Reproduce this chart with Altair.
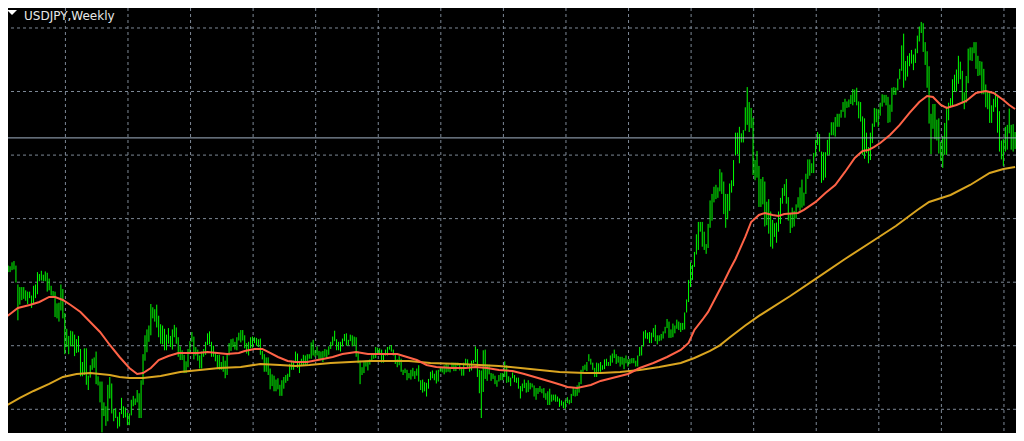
import itertools
import altair as alt
import pandas as pd

# Weekly USDJPY bars (high, low), one entry per week, from 2015-06-29 to 2025-06-02
bars_2015 = [(123.7, 122.1), (123.0, 120.4), (124.5, 122.9), (124.6, 123.6), (124.5, 123.6), (125.1, 123.9),
             (125.3, 124.0), (124.6, 122.0), (121.7, 116.2), (121.3, 118.6), (121.3, 119.3), (121.3, 119.5),
             (120.8, 119.2), (120.6, 118.7), (120.6, 119.6), (120.0, 118.1), (121.5, 118.8), (121.7, 119.6),
             (123.6, 120.2), (123.3, 122.2), (123.8, 122.3), (123.2, 122.2), (123.7, 122.2), (123.5, 120.6),
             (122.6, 120.8), (121.5, 120.0), (120.7, 119.9)]
bars_2016 = [(120.6, 116.7), (118.8, 116.5), (118.9, 116.0), (121.7, 117.7), (121.0, 116.5), (117.3, 111.0),
             (114.9, 112.1), (113.8, 111.0), (114.6, 112.2), (114.5, 112.2), (114.0, 110.7), (113.3, 111.2),
             (113.8, 111.3), (111.8, 107.6), (109.8, 107.6), (111.9, 107.8), (111.9, 106.3), (107.7, 105.5),
             (109.3, 107.4), (110.3, 108.6), (110.5, 108.9), (111.4, 106.4), (107.6, 106.2), (106.8, 103.6),
             (106.8, 99.0), (103.6, 101.5), (103.0, 100.0), (106.3, 100.7), (107.5, 104.2), (106.5, 101.9),
             (102.5, 100.7), (102.7, 101.2), (101.4, 99.6), (102.1, 99.9), (104.3, 101.8), (103.0, 101.2),
             (102.8, 101.3), (102.0, 100.1), (101.9, 100.1), (104.0, 101.6), (104.6, 103.0), (104.2, 103.2),
             (105.5, 103.6), (105.0, 101.2), (107.0, 101.2), (111.0, 106.3), (113.9, 110.0), (114.8, 111.3),
             (115.4, 112.9), (118.7, 113.9), (118.2, 116.5), (117.9, 116.0)]
bars_2017 = [(118.6, 115.1), (116.9, 113.6), (115.6, 112.6), (115.4, 112.5), (114.9, 111.6), (114.0, 111.6),
             (115.0, 112.6), (113.8, 112.1), (114.8, 111.7), (115.5, 113.6), (115.1, 112.6), (113.6, 110.6),
             (112.2, 110.1), (111.6, 110.1), (110.9, 108.1), (109.9, 108.1), (111.8, 109.0), (113.0, 111.0),
             (114.4, 112.9), (113.7, 110.2), (112.1, 110.8), (111.7, 110.0), (110.8, 108.8), (111.4, 108.8),
             (111.8, 110.6), (112.9, 110.9), (114.2, 112.4), (114.5, 112.5), (112.9, 110.6), (112.3, 110.6),
             (111.2, 109.9), (110.9, 108.7), (110.9, 108.6), (109.8, 108.6), (110.7, 108.3), (110.0, 107.3),
             (111.0, 107.8), (112.7, 110.8), (113.3, 111.5), (113.4, 112.1), (112.9, 111.7), (113.6, 111.6),
             (114.3, 113.1), (114.7, 112.8), (114.7, 113.1), (113.9, 111.9), (112.7, 111.1), (112.9, 110.8),
             (113.6, 111.9), (113.7, 112.0), (113.6, 112.7), (113.5, 112.3)]
bars_2018 = [(113.3, 112.1), (113.4, 110.9), (111.5, 110.2), (111.0, 108.3), (110.5, 108.3), (110.5, 107.8),
             (108.8, 105.6), (107.9, 106.1), (107.7, 105.3), (107.1, 105.3), (107.3, 105.6), (106.3, 104.6),
             (107.0, 104.6), (107.5, 105.7), (107.8, 106.6), (108.0, 106.9), (109.5, 107.5), (110.0, 108.6),
             (110.0, 108.6), (111.4, 109.7), (111.1, 108.9), (109.8, 108.1), (110.3, 109.2), (110.9, 109.2),
             (110.8, 109.4), (111.0, 109.4), (111.0, 110.3), (112.8, 110.3), (113.2, 110.8), (111.6, 110.6),
             (112.2, 110.8), (111.5, 110.1), (111.4, 110.1), (111.5, 109.8), (111.8, 110.6), (111.7, 110.4),
             (112.2, 110.9), (112.9, 111.8), (113.7, 112.3), (114.6, 113.0), (113.3, 111.6), (112.9, 111.6),
             (112.9, 111.4), (113.4, 112.2), (114.1, 113.0), (114.2, 112.3), (113.2, 112.3), (114.0, 113.0),
             (113.9, 112.2), (113.7, 112.3), (113.6, 110.6), (111.4, 109.6), (110.0, 106.4)]
bars_2019 = [(109.0, 107.8), (109.9, 108.1), (110.0, 109.1), (110.0, 108.5), (110.2, 109.4), (111.1, 109.8),
             (111.1, 110.3), (112.1, 110.4), (112.0, 111.0), (111.9, 111.1), (111.7, 109.7), (111.0, 109.7),
             (111.7, 110.8), (112.1, 110.8), (112.2, 111.7), (112.4, 111.4), (111.7, 110.8), (111.1, 109.5),
             (110.2, 109.0), (110.7, 109.3), (110.3, 108.3), (108.6, 107.8), (108.8, 108.1), (108.6, 107.0),
             (108.1, 107.3), (108.6, 107.1), (108.9, 107.6), (108.4, 107.2), (108.8, 107.7), (109.3, 106.8),
             (107.0, 105.5), (107.1, 105.1), (106.7, 105.3), (106.6, 104.5), (107.2, 105.7), (108.3, 107.0),
             (108.5, 107.3), (108.0, 107.0), (108.5, 106.5), (108.6, 106.8), (108.9, 108.3), (108.9, 108.2),
             (109.3, 107.9), (109.5, 108.2), (109.4, 108.3), (109.0, 108.2), (109.7, 108.9), (109.7, 108.4),
             (109.7, 108.4), (109.7, 109.2), (109.6, 108.5), (109.0, 107.7)]
bars_2020 = [(109.7, 107.7), (110.3, 109.3), (110.2, 108.9), (109.4, 108.3), (110.0, 108.5), (110.1, 109.6),
             (112.2, 109.8), (111.8, 107.5), (108.6, 105.0), (108.5, 101.2), (111.6, 105.2), (111.7, 107.2),
             (109.4, 106.9), (109.4, 107.9), (108.1, 106.9), (108.0, 107.2), (107.7, 106.4), (107.0, 106.0),
             (107.8, 106.8), (108.1, 107.0), (108.1, 107.0), (109.9, 107.5), (109.3, 106.6), (107.6, 106.7),
             (107.4, 106.1), (108.2, 107.3), (107.8, 106.7), (107.4, 106.6), (107.4, 105.7), (106.1, 104.2),
             (106.5, 105.3), (107.1, 105.8), (106.6, 105.1), (107.0, 105.2), (106.6, 105.6), (106.5, 105.9),
             (106.2, 104.5), (105.8, 104.0), (105.8, 104.9), (106.1, 105.2), (105.7, 105.0), (105.8, 104.3),
             (105.0, 104.0), (105.3, 103.2), (105.7, 103.2), (104.8, 103.7), (104.8, 103.9), (104.8, 103.7),
             (104.5, 103.7), (104.2, 102.9), (103.9, 103.1), (103.7, 102.7)]
bars_2021 = [(104.0, 102.6), (104.4, 103.5), (104.0, 103.3), (104.9, 103.5), (105.8, 104.6), (105.6, 104.5),
             (106.2, 104.6), (106.7, 105.1), (108.6, 106.4), (109.2, 108.3), (109.4, 108.6), (109.8, 108.4),
             (111.0, 109.9), (110.3, 109.4), (109.7, 108.6), (108.9, 107.5), (109.7, 107.5), (109.6, 108.3),
             (109.8, 108.3), (109.3, 108.6), (110.2, 108.7), (110.3, 109.2), (109.8, 109.2), (110.8, 109.2),
             (111.1, 109.7), (111.7, 110.4), (111.0, 109.5), (110.7, 109.7), (110.6, 109.1), (110.6, 109.4),
             (110.4, 108.7), (110.8, 109.6), (110.2, 109.1), (110.3, 109.5), (110.4, 109.6), (110.4, 109.6),
             (110.0, 109.1), (110.8, 109.1), (112.1, 110.7), (112.3, 110.8), (114.5, 112.2), (114.7, 113.4),
             (114.3, 113.3), (114.4, 112.7), (114.3, 112.7), (115.0, 113.6), (115.5, 113.0), (113.9, 112.5),
             (113.9, 113.0), (114.1, 113.1), (114.5, 113.4), (115.2, 114.2)]
bars_2022 = [(116.4, 115.0), (116.0, 113.5), (114.8, 113.5), (115.7, 113.6), (115.4, 114.2), (116.3, 114.9),
             (116.0, 114.7), (115.8, 114.4), (115.8, 114.7), (117.4, 114.8), (119.4, 117.4), (122.4, 119.0),
             (125.1, 121.3), (124.7, 122.4), (126.7, 124.4), (129.4, 126.3), (131.3, 127.0), (131.3, 129.8),
             (131.3, 127.5), (129.8, 127.0), (127.9, 126.4), (131.0, 127.3), (134.6, 130.4), (135.6, 131.5),
             (136.7, 134.3), (137.0, 134.8), (136.6, 135.0), (139.4, 136.0), (138.9, 135.6), (137.5, 132.5),
             (135.6, 130.4), (135.6, 131.7), (137.2, 133.0), (137.7, 135.8), (140.8, 136.8), (145.0, 141.5),
             (145.0, 141.7), (145.9, 140.3), (144.9, 143.5), (145.4, 143.5), (148.9, 145.3), (152.0, 146.2),
             (149.7, 145.1), (148.8, 145.7), (147.3, 138.5), (140.8, 137.7), (142.2, 138.1), (139.9, 133.6),
             (137.9, 133.6), (138.2, 134.0), (137.5, 130.6), (134.4, 130.8)]
bars_2023 = [(134.8, 129.5), (132.9, 127.5), (131.6, 127.2), (131.1, 129.0), (131.2, 128.1), (132.9, 129.8),
             (135.0, 131.0), (136.5, 134.1), (137.1, 135.3), (137.9, 134.1), (135.1, 131.5), (132.6, 129.6),
             (133.5, 130.4), (133.0, 130.6), (134.0, 131.8), (135.1, 133.5), (136.6, 133.0), (137.8, 133.5),
             (135.8, 133.8), (138.7, 135.6), (140.9, 137.9), (140.9, 138.4), (140.3, 138.8), (141.9, 138.8),
             (143.9, 141.3), (145.1, 143.1), (144.8, 142.1), (142.1, 137.3), (142.0, 137.7), (142.0, 138.1),
             (143.9, 141.5), (145.0, 141.6), (146.6, 144.6), (146.6, 144.6), (147.4, 144.4), (147.9, 145.9),
             (147.9, 145.9), (148.5, 147.3), (149.7, 148.2), (150.2, 147.3), (149.8, 148.8), (150.1, 148.9),
             (150.8, 149.4), (151.7, 149.2), (151.6, 149.7), (151.9, 149.2), (149.8, 147.2), (149.7, 146.7),
             (147.5, 141.6), (147.2, 141.0), (145.0, 141.9), (142.8, 140.3)]
bars_2024 = [(145.0, 140.8), (146.4, 143.4), (148.8, 145.9), (148.7, 146.6), (148.6, 145.9), (149.6, 147.6),
             (150.9, 149.0), (150.8, 149.6), (150.8, 149.2), (150.5, 146.5), (149.3, 146.6), (151.9, 148.2),
             (152.0, 150.8), (151.9, 150.8), (153.3, 151.5), (154.8, 153.2), (158.4, 154.5), (160.2, 151.9),
             (156.0, 153.0), (156.8, 153.6), (157.2, 155.2), (157.7, 155.6), (157.0, 154.6), (157.9, 155.7),
             (159.9, 157.2), (161.3, 159.0), (162.0, 160.3), (161.8, 157.4), (158.9, 155.4), (157.5, 151.9),
             (155.2, 146.4), (147.9, 141.7), (149.4, 145.6), (149.4, 144.0), (147.0, 143.8), (147.2, 141.8),
             (143.6, 140.7), (144.5, 139.6), (146.5, 141.6), (149.0, 141.6), (149.6, 146.9), (150.3, 148.9),
             (153.2, 149.1), (153.9, 151.3), (154.7, 151.3), (156.8, 152.5), (155.9, 153.2), (154.5, 149.5),
             (151.2, 148.6), (153.7, 149.6), (157.9, 152.6), (158.1, 156.1), (158.1, 156.0)]
bars_2025 = [(158.9, 157.2), (158.9, 154.8), (156.8, 153.7), (156.0, 153.8), (155.9, 150.9), (154.8, 150.9),
             (152.4, 148.9), (151.3, 148.6), (151.3, 146.5), (149.2, 146.5), (150.2, 148.2), (151.2, 148.9),
             (150.5, 145.0), (148.3, 142.1), (143.8, 140.9), (144.0, 139.9), (145.9, 142.1), (146.2, 142.4),
             (148.7, 144.9), (146.2, 142.4), (146.3, 142.1), (145.1, 142.5)]

# Moving averages: (bar index, price)
ma_fast_idx = [0, 4, 8, 14, 19, 24, 27, 31, 35, 40, 45, 50, 55, 60, 65, 69, 72, 76, 80, 85, 90, 95, 100, 105,
               110, 115, 121, 124, 129, 133, 136, 141, 146, 150, 156, 164, 169, 174, 181, 187, 192, 197, 202,
               207, 212, 217, 222, 230, 237, 242, 248, 254, 261, 267, 274, 281, 286, 289, 294, 301, 306, 312,
               320, 326, 333, 340, 347, 351, 354, 358, 361, 365, 369, 372, 375, 380, 383, 387, 390, 394, 397,
               400, 407, 410, 416, 421, 426, 431, 436, 440, 443, 446, 449, 454, 459, 464, 469, 473, 476, 480,
               483, 488, 493, 498, 503, 507, 512, 515, 518]
ma_fast_val = [116.25, 117.17, 118.09, 118.55, 119.01, 119.78, 119.78, 119.32, 118.55, 117.48, 115.94, 114.41,
               112.41, 110.57, 108.88, 107.96, 108.11, 108.88, 110.11, 110.72, 111.18, 111.18, 111.18, 111.34,
               111.18, 111.03, 111.18, 111.49, 111.80, 111.80, 111.34, 110.57, 109.96, 109.80, 109.80, 110.26,
               110.57, 111.03, 111.34, 111.03, 111.03, 111.03, 111.03, 110.57, 110.11, 109.34, 109.04, 108.88,
               108.88, 109.04, 108.88, 108.58, 108.42, 107.96, 107.35, 106.73, 106.27, 105.97, 105.81, 106.27,
               106.89, 107.35, 107.96, 108.88, 109.65, 110.57, 111.65, 112.72, 114.72, 116.25, 117.48, 119.78,
               122.08, 123.93, 125.61, 128.99, 131.29, 132.37, 132.67, 132.37, 132.21, 132.52, 132.67, 133.14,
               134.37, 135.74, 136.97, 138.97, 141.12, 142.19, 142.35, 142.81, 143.42, 144.65, 146.19, 148.03,
               149.71, 150.63, 150.48, 149.25, 148.79, 149.25, 149.87, 151.09, 151.40, 151.09, 150.02, 149.25,
               148.64]
ma_slow_idx = [0, 9, 16, 24, 31, 38, 45, 50, 55, 60, 65, 72, 81, 91, 101, 111, 122, 132, 142, 150, 157, 168,
               178, 188, 198, 208, 219, 234, 244, 254, 265, 275, 285, 298, 306, 316, 326, 336, 347, 354, 362,
               367, 372, 380, 387, 403, 416, 431, 446, 457, 468, 474, 485, 495, 505, 512, 518]
ma_slow_val = [102.74, 104.28, 105.35, 106.43, 107.50, 107.96, 108.11, 107.96, 107.81, 107.50, 107.35, 107.35,
               107.65, 108.27, 108.58, 108.88, 109.04, 109.50, 109.34, 109.19, 109.34, 109.65, 109.80, 109.96,
               109.96, 109.96, 109.65, 109.50, 109.34, 109.19, 108.88, 108.58, 108.27, 108.11, 108.11, 108.27,
               108.58, 109.04, 109.65, 110.42, 111.50, 112.35, 113.55, 115.40, 116.87, 119.93, 122.55, 125.61,
               128.53, 130.68, 133.14, 134.37, 135.44, 136.97, 138.81, 139.43, 139.74]

grid_bar_positions = [0.3 + 32 * k for k in range(17)]
grid_prices = [161.07, 151.32, 141.56, 131.81, 122.05, 112.30, 102.54]
bid_price = [144.2]
title_text = ["USDJPY,Weekly"]

all_bars = list(itertools.chain(bars_2015, bars_2016, bars_2017, bars_2018, bars_2019, bars_2020,
                                bars_2021, bars_2022, bars_2023, bars_2024, bars_2025))
bars = pd.DataFrame({"i": list(range(len(all_bars))),
                     "high": [b[0] for b in all_bars],
                     "low": [b[1] for b in all_bars]})
fast = pd.DataFrame({"i": ma_fast_idx, "v": ma_fast_val})
slow = pd.DataFrame({"i": ma_slow_idx, "v": ma_slow_val})

xs = alt.Scale(domain=[2.94, 518.46], nice=False, zero=False)
ys = alt.Scale(domain=[98.90, 164.14], nice=False, zero=False)

grid_color = "#7d8896"

vgrid = alt.Chart(pd.DataFrame({"i": grid_bar_positions})).mark_rule(
    color=grid_color, strokeWidth=1, strokeDash=[3, 3]
).encode(x=alt.X("i:Q", scale=xs, axis=None))

hgrid = alt.Chart(pd.DataFrame({"p": grid_prices})).mark_rule(
    color=grid_color, strokeWidth=1, strokeDash=[3, 3]
).encode(y=alt.Y("p:Q", scale=ys, axis=None))

bar_rules = alt.Chart(bars).mark_rule(color="#00ff00", strokeWidth=1, clip=True).encode(
    x=alt.X("i:Q", scale=xs, axis=None),
    y=alt.Y("low:Q", scale=ys, axis=None),
    y2="high:Q",
)

bid = alt.Chart(pd.DataFrame({"p": bid_price})).mark_rule(
    color="#a3b3c6", strokeWidth=1
).encode(y=alt.Y("p:Q", scale=ys, axis=None))

fast_line = alt.Chart(fast).mark_line(color="#ff6347", strokeWidth=2, clip=True).encode(
    x=alt.X("i:Q", scale=xs, axis=None), y=alt.Y("v:Q", scale=ys, axis=None))
slow_line = alt.Chart(slow).mark_line(color="#daa520", strokeWidth=2, clip=True).encode(
    x=alt.X("i:Q", scale=xs, axis=None), y=alt.Y("v:Q", scale=ys, axis=None))

title = alt.Chart(pd.DataFrame({"t": title_text})).mark_text(
    align="left", baseline="alphabetic", fontSize=12, font="DejaVu Sans", color="#e8e8e8"
).encode(text="t:N", x=alt.value(16), y=alt.value(11.5))

tri = alt.Chart(pd.DataFrame({"t": title_text})).mark_point(
    shape="M-1,-0.5L1,-0.5L0,0.5Z", filled=True, color="#ffffff", opacity=1, size=100
).encode(x=alt.value(4), y=alt.value(4.5))

chart = alt.layer(vgrid, hgrid, bar_rules, bid, slow_line, fast_line, title, tri).properties(
    width=1008, height=425, autosize=alt.AutoSizeParams(type="none"), padding=0, background="#000000"
).configure_view(stroke=None)

chart.save("out.html", embed_options={"renderer": "svg", "actions": False})
